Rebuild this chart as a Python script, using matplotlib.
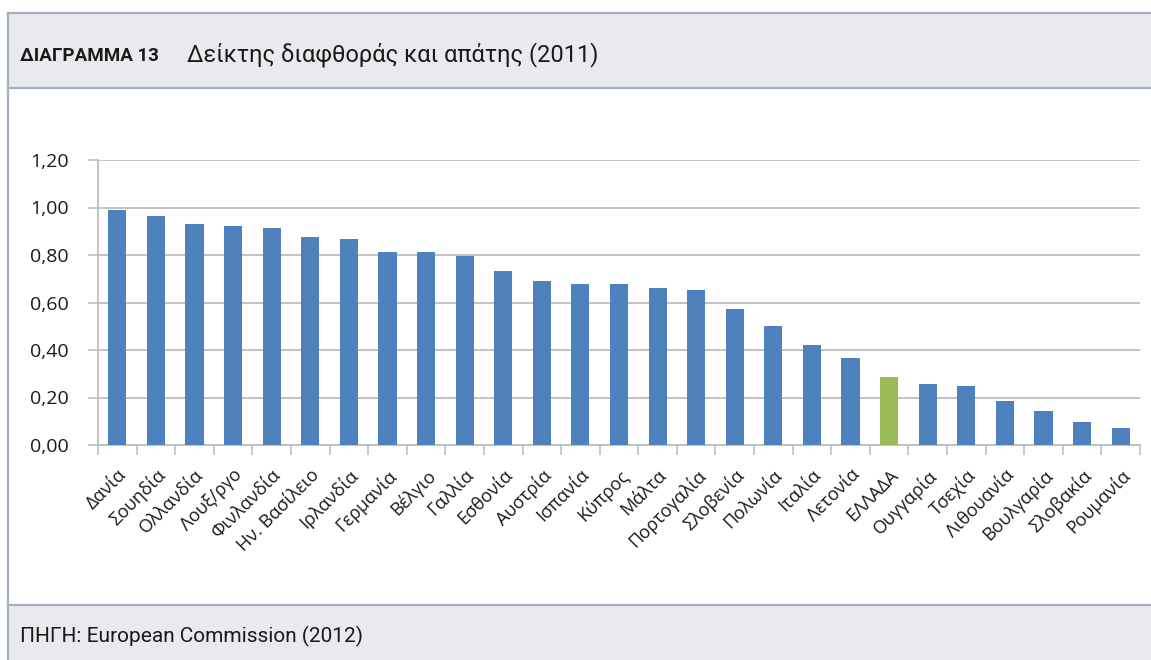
import numpy as np
import matplotlib
matplotlib.use('Agg')
import matplotlib.pyplot as plt
import matplotlib.transforms as mtransforms
from matplotlib.patches import Rectangle
from matplotlib.lines import Line2D

# data
countries = ['Δανία', 'Σουηδία', 'Ολλανδία', 'Λουξ/ργο', 'Φινλανδία', 'Ην. Βασίλειο',
             'Ιρλανδία', 'Γερμανία', 'Βέλγιο', 'Γαλλία', 'Εσθονία', 'Αυστρία',
             'Ισπανία', 'Κύπρος', 'Μάλτα', 'Πορτογαλία', 'Σλοβενία', 'Πολωνία',
             'Ιταλία', 'Λετονία', 'ΕΛΛΑΔΑ', 'Ουγγαρία', 'Τσεχία', 'Λιθουανία',
             'Βουλγαρία', 'Σλοβακία', 'Ρουμανία']
values = [0.99, 0.965, 0.932, 0.924, 0.915, 0.877, 0.869, 0.814, 0.814, 0.797,
          0.734, 0.689, 0.680, 0.679, 0.662, 0.654, 0.574, 0.502, 0.422, 0.368,
          0.288, 0.258, 0.250, 0.187, 0.145, 0.098, 0.073]
highlight = 'ΕΛΛΑΔΑ'
y_ticks = [0.0, 0.2, 0.4, 0.6, 0.8, 1.0, 1.2]

title_num = 'ΔΙΑΓΡΑΜΜΑ 13'
title_text = 'Δείκτης διαφθοράς και απάτης (2011)'
source_text = 'ΠΗΓΗ: European Commission (2012)'

W, H = 1151, 660
fig = plt.figure(figsize=(W / 100, H / 100), dpi=100)
fig.patch.set_facecolor('white')

band = '#E9EAEE'
edge = '#A3AEC0'

def fx(px):
    return px / W

def fy(py):
    return 1 - py / H

# header and footer bands
fig.patches.append(Rectangle((fx(8), fy(88)), 1 - fx(8), fy(13) - fy(88),
                             transform=fig.transFigure, facecolor=band, edgecolor='none', zorder=0))
fig.patches.append(Rectangle((fx(8), 0), 1 - fx(8), fy(605),
                             transform=fig.transFigure, facecolor=band, edgecolor='none', zorder=0))
for yy in [13, 88, 605]:
    fig.lines.append(Line2D([fx(8), 1], [fy(yy), fy(yy)], transform=fig.transFigure,
                            color=edge, lw=1.6))
fig.lines.append(Line2D([fx(8), fx(8)], [0, fy(13)], transform=fig.transFigure,
                        color=edge, lw=1.6))

head = ['Roboto', 'DejaVu Sans']
fig.text(fx(20), fy(56), title_num, fontsize=13.5, fontweight='bold', family=head,
         va='center', ha='left', color='#1a1a1a')
fig.text(fx(187), fy(55), title_text, fontsize=17, family=head,
         va='center', ha='left', color='#1a1a1a')
fig.text(fx(20), fy(636), source_text, fontsize=15, family=head,
         va='center', ha='left', color='#1a1a1a')

# chart area
ax = fig.add_axes([fx(98), fy(445), fx(1140) - fx(98), fy(160) - fy(445)])
x = np.arange(len(countries))
colors = ['#9BBB59' if c == highlight else '#4F81BD' for c in countries]
ax.bar(x, values, width=0.47, color=colors, zorder=3)

ax.set_xlim(-0.5, len(countries) - 0.5)
ax.set_ylim(0, 1.2)
ax.set_yticks(y_ticks)
ax.set_yticklabels([f'{v:.2f}'.replace('.', ',') for v in y_ticks],
                   fontsize=14, family='Open Sans', color='#1a1a1a')
ax.yaxis.grid(True, color='#BEBEBE', lw=1.3, zorder=0)

ax.set_xticks(x)
ax.set_xticklabels(countries, rotation=45, ha='right', rotation_mode='anchor',
                   fontsize=13, family='Open Sans', color='#1a1a1a')
shift = mtransforms.ScaledTranslation(-5 / 100, 0, fig.dpi_scale_trans)
for lab in ax.get_xticklabels():
    lab.set_transform(lab.get_transform() + shift)
ax.set_xticks(np.arange(-0.5, len(countries)), minor=True)
ax.tick_params(axis='x', which='major', length=0, pad=15)
ax.tick_params(axis='x', which='minor', length=7, width=1.2, color='#BEBEBE')
ax.tick_params(axis='y', length=7, width=1.2, color='#BEBEBE', pad=14)

for s in ['top', 'right']:
    ax.spines[s].set_visible(False)
for s in ['left', 'bottom']:
    ax.spines[s].set_color('#BEBEBE')
    ax.spines[s].set_linewidth(1.3)

fig.savefig('out.png', dpi=100)
